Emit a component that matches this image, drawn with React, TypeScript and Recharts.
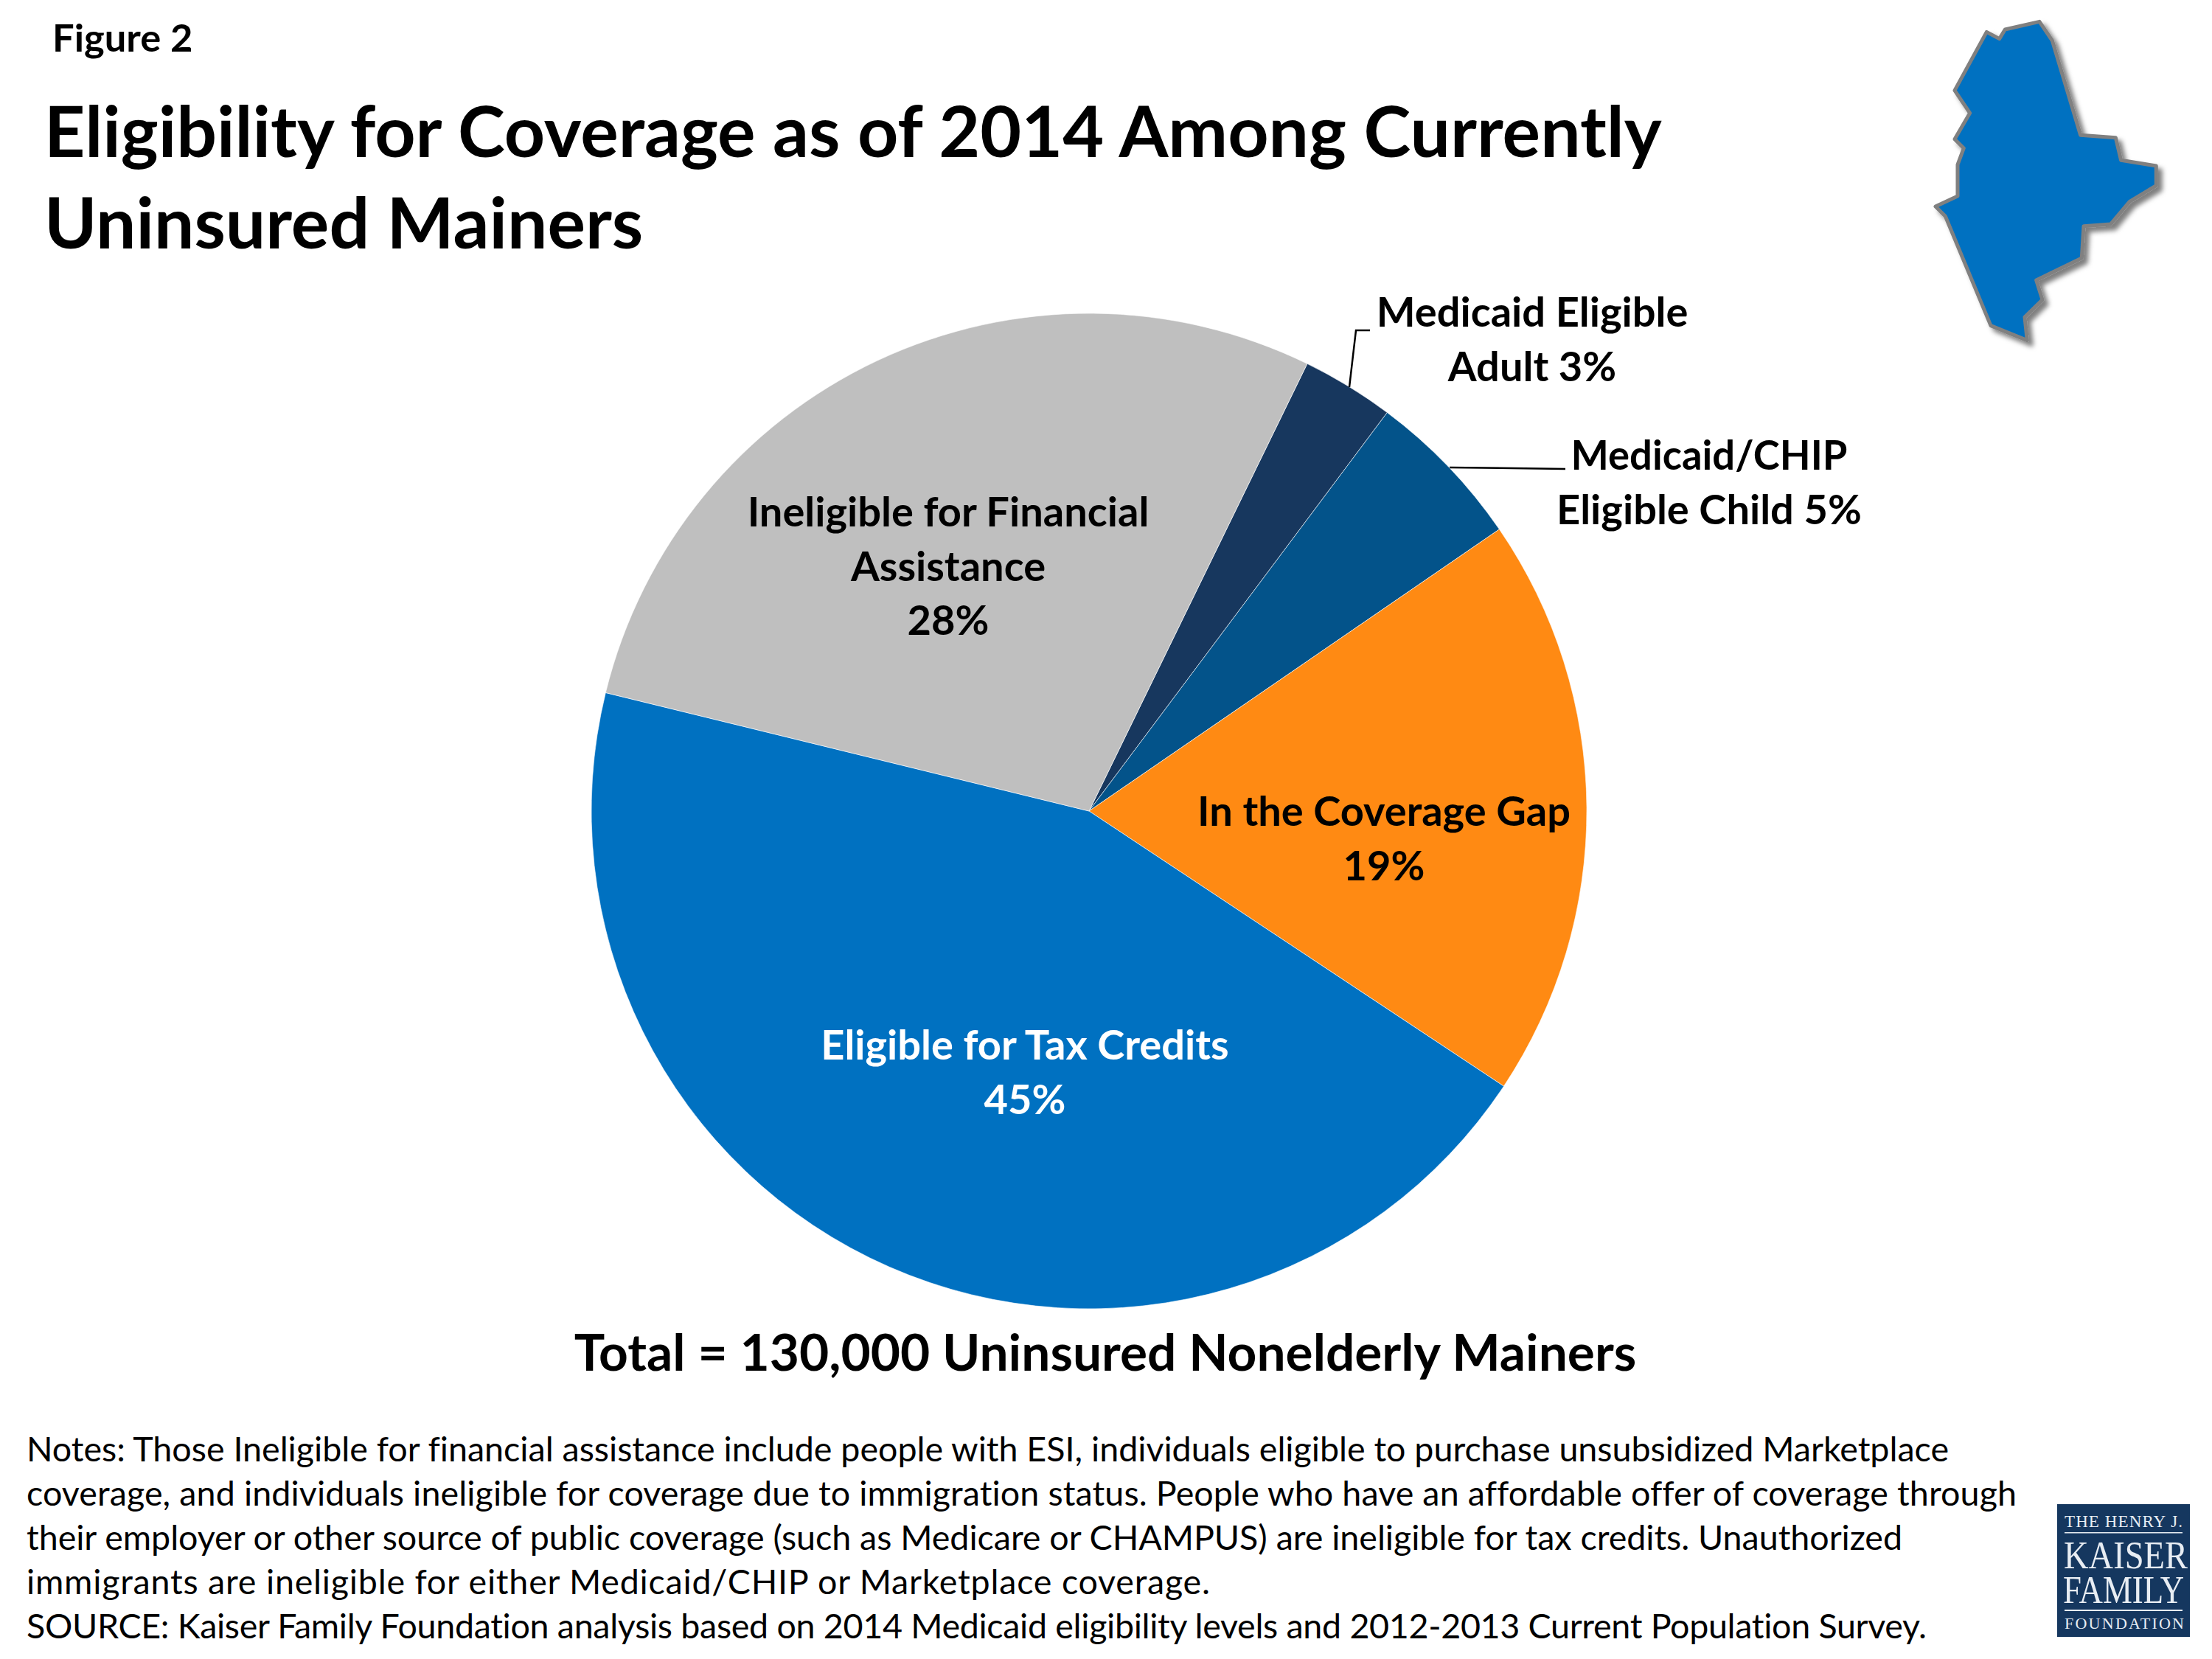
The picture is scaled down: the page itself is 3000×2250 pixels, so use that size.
import React from 'react';
import { PieChart, Pie, Cell } from 'recharts';

// Share of uninsured nonelderly Mainers, clockwise from the small navy slice
const categories = [
  'Medicaid Eligible Adult',
  'Medicaid/CHIP Eligible Child',
  'In the Coverage Gap',
  'Eligible for Tax Credits',
  'Ineligible for Financial Assistance',
];
const shares = [3.0, 5.2, 18.9, 44.5, 28.4];
const sliceColors = ['#17375E', '#03538A', '#FF8A13', '#0071C1', '#BFBFBF'];

const sliceLabels = [
  ['Medicaid Eligible', 'Adult 3%'],
  ['Medicaid/CHIP', 'Eligible Child 5%'],
  ['In the Coverage Gap', '19%'],
  ['Eligible for Tax Credits', '45%'],
  ['Ineligible for Financial', 'Assistance', '28%'],
];

const titleLines = ['Eligibility for Coverage as of 2014 Among Currently', 'Uninsured Mainers'];
const noteLines = [
  'Notes: Those Ineligible for financial assistance include people with ESI, individuals eligible to purchase unsubsidized Marketplace',
  'coverage, and individuals ineligible for coverage due to immigration status. People who have an affordable offer of coverage through',
  'their employer or other source of public coverage (such as Medicare or CHAMPUS) are ineligible for tax credits. Unauthorized',
  'immigrants are ineligible for either Medicaid/CHIP or Marketplace coverage.',
  'SOURCE: Kaiser Family Foundation analysis based on 2014 Medicaid eligibility levels and 2012-2013 Current Population Survey.',
];
const noteWidths = [2607, 2699, 2544, 1605, 2577];

const pieData = categories.map((name, i) => ({ name, value: shares[i] }));

const FONT = 'Lato, Carlito, "Open Sans", sans-serif';
const SERIF = '"Liberation Serif", serif';
const NO_LIGATURES = { fontVariantLigatures: 'none' };

// center x and first baseline of each slice label
const labelSpots = [
  { x: 2078, y: 443, fill: '#000' },
  { x: 2318, y: 637, fill: '#000' },
  { x: 1877, y: 1120, fill: '#000' },
  { x: 1390, y: 1437, fill: '#fff' },
  { x: 1286, y: 714, fill: '#000' },
];
const leaders = [
  '1830,525 1839,448 1858,448',
  '1966,634 2123,636',
];

const mainePoints =
  '558,88 610,165 725,550 868,560 890,652 1033,675 1033,755 925,820 848,912 738,920 730,1050 545,1140 570,1220 498,1290 508,1385 360,1325 175,880 135,840 225,798 225,670 250,603 213,566 275,460 213,368 343,130 395,158 418,120';

const renderSliceLabel = (props: any) => {
  const spot = labelSpots[props.index];
  return (
    <g>
      {leaders[props.index] && (
        <polyline points={leaders[props.index]} fill="none" stroke="#000" strokeWidth={2.5} />
      )}
      {sliceLabels[props.index].map((line, i) => (
        <text
          key={line}
          x={spot.x}
          y={spot.y + i * 73.5}
          textAnchor="middle"
          fontFamily={FONT}
          fontWeight={700}
          fontSize={56}
          fill={spot.fill}
          // Lato runs wide on this one line and would hit its leader
          textLength={line === 'Medicaid/CHIP' ? 375 : undefined}
          lengthAdjust="spacingAndGlyphs"
          style={NO_LIGATURES}
        >
          {line}
        </text>
      ))}
    </g>
  );
};

export default function App() {
  return (
    <div style={{ position: 'absolute', left: 0, top: 0, width: 3000, height: 2250, background: '#fff', overflow: 'hidden' }}>
      <svg width={3000} height={2250} style={{ position: 'absolute', left: 0, top: 0 }}>
        <defs>
          <filter id="mapShadow" x="-20%" y="-20%" width="150%" height="150%">
            <feDropShadow dx={18} dy={18} stdDeviation={10} floodColor="#000" floodOpacity={0.5} />
          </filter>
        </defs>
        <text x={71} y={70} fontFamily={FONT} fontWeight={700} fontSize={52.5}>Figure 2</text>
        {titleLines.map((line, i) => (
          <text key={line} x={60} y={213 + i * 124} fontFamily={FONT} fontWeight={700} fontSize={96.5}>
            {line}
          </text>
        ))}
        <text x={1499} y={1859} textAnchor="middle" fontFamily={FONT} fontWeight={700} fontSize={69.4}>
          Total = 130,000 Uninsured Nonelderly Mainers
        </text>
        {noteLines.map((line, i) => (
          <text
            key={line}
            x={36}
            y={1982 + i * 60}
            fontFamily={FONT}
            fontSize={46.6}
            textLength={noteWidths[i]}
            lengthAdjust="spacing"
            style={NO_LIGATURES}
          >
            {line}
          </text>
        ))}
        <g transform="translate(2580 0) scale(0.3333)">
          <polygon
            points={mainePoints}
            fill="#0071C1"
            stroke="#808080"
            strokeWidth={15}
            strokeLinejoin="round"
            filter="url(#mapShadow)"
          />
        </g>
        <rect x={2790} y={2040} width={180} height={180} fill="#15375F" />
        <g fill="#E8EDF3" fontFamily={SERIF}>
          <text x={2800} y={2071} fontSize={23} textLength={160} lengthAdjust="spacing">THE HENRY J.</text>
          <rect x={2800} y={2078} width={160} height={1.5} />
          <text x={2799} y={2127} fontSize={53} textLength={168} lengthAdjust="spacingAndGlyphs">KAISER</text>
          <text x={2798} y={2174} fontSize={53} textLength={164} lengthAdjust="spacingAndGlyphs">FAMILY</text>
          <rect x={2800} y={2183} width={160} height={2} />
          <text x={2800} y={2209} fontSize={22} textLength={162} lengthAdjust="spacing">FOUNDATION</text>
        </g>
      </svg>
      <div style={{ position: 'absolute', left: 0, top: 0 }}>
        <PieChart width={3000} height={2250} margin={{ top: 0, right: 0, bottom: 0, left: 0 }}>
          <Pie
            data={pieData}
            dataKey="value"
            nameKey="name"
            cx={1477}
            cy={1100}
            outerRadius={675}
            startAngle={64}
            endAngle={-296}
            stroke="#fff"
            strokeWidth={0.6}
            labelLine={false}
            label={renderSliceLabel}
            isAnimationActive={false}
          >
            {pieData.map((d, i) => (
              <Cell key={d.name} fill={sliceColors[i]} />
            ))}
          </Pie>
        </PieChart>
      </div>
    </div>
  );
}
